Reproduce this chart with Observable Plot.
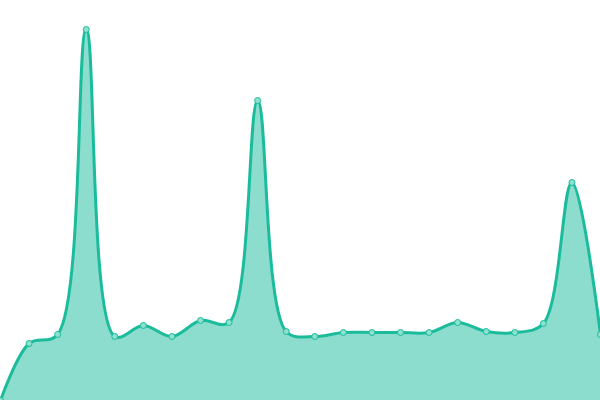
<!DOCTYPE html>
<html><head><meta charset="utf-8">
<script src="https://cdn.jsdelivr.net/npm/d3@7"></script>
<script src="https://cdn.jsdelivr.net/npm/@observablehq/plot@0.6"></script>
<style>body{margin:0;background:#fff}</style>
</head><body><div id="chart"></div>
<script>
const xs = [0,1,2,3,4,5,6,7,8,9,10,11,12,13,14,15,16,17,18,19,20,21];
const values = [0,57,66,371,64,75,64,80,78,300,69,64,68,68,68,68,78,69,68,77,218,66];
const data = xs.map((x,i)=>({x, v: values[i]}));
const chart = Plot.plot({
  width: 600, height: 400, margin: 0,
  x: {domain: [0, 21], axis: null},
  y: {domain: [0, 400], axis: null},
  marks: [
    Plot.areaY(data, {x: "x", y: "v", curve: "catmull-rom", fill: "#1abc9c", fillOpacity: 0.5}),
    Plot.lineY(data, {x: "x", y: "v", curve: "catmull-rom", stroke: "#1abc9c", strokeWidth: 3}),
    Plot.dot(data, {x: "x", y: "v", r: 3, fill: "#8ee0cf", stroke: "#1abc9c", strokeWidth: 1})
  ]
});
document.getElementById("chart").append(chart);
</script></body></html>
